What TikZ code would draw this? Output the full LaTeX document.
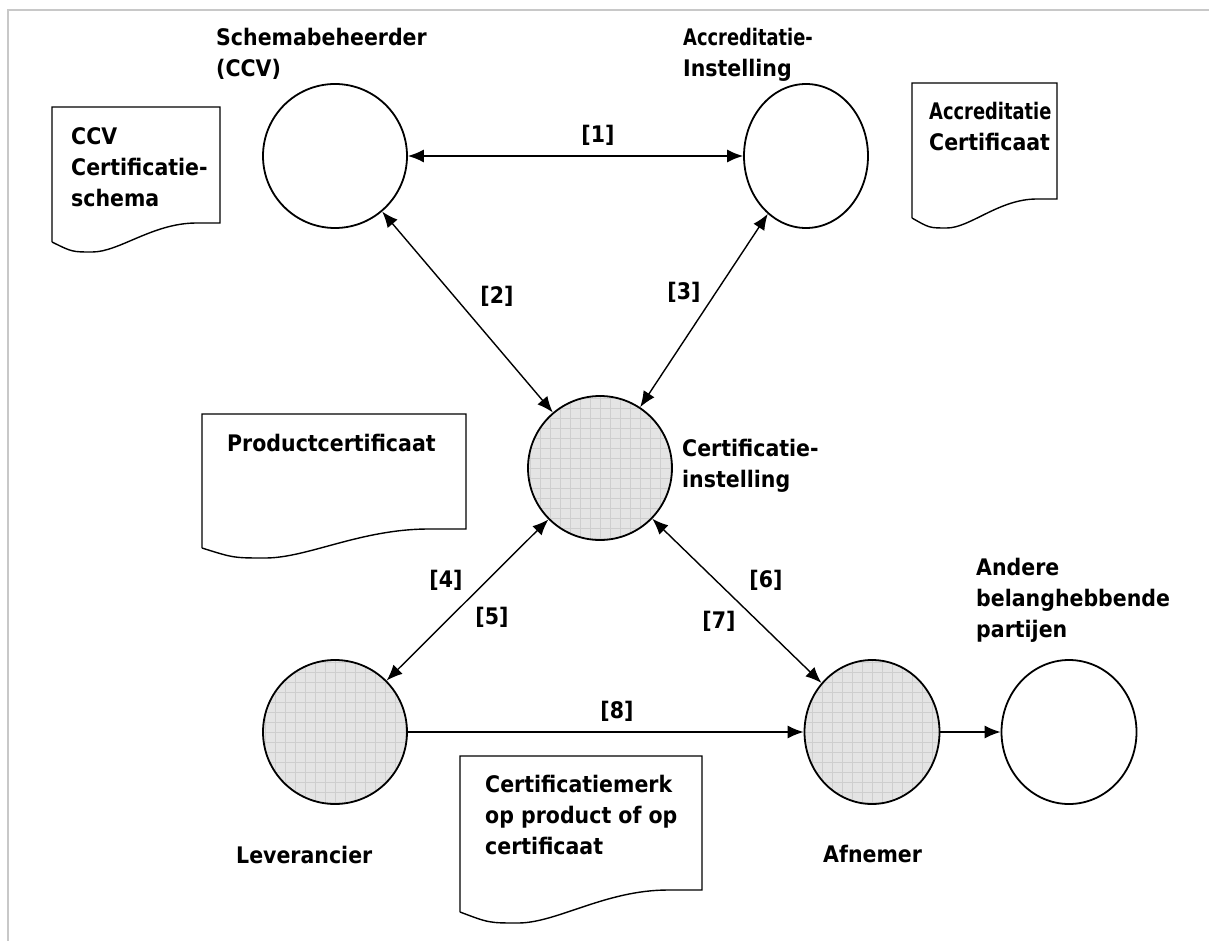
\documentclass[tikz,border=0pt]{standalone}
\usepackage{fontspec}
\usepackage{graphicx}
\setmainfont{DejaVu Sans}[FakeStretch=0.9]
\usetikzlibrary{arrows.meta,shapes.geometric}
\definecolor{cellfill}{RGB}{228,228,228}
\definecolor{gridcol}{RGB}{206,206,206}
\definecolor{framecol}{RGB}{200,200,200}
\newcommand\narrowword[1]{\scalebox{0.87}[1]{#1}}
% document shape: x0, ytop, x1, yRight, yLeft, yMin
\newcommand\docshape[6]{%
  \draw[docline] (#1,#5) -- (#1,#2) -- (#3,#2) -- (#3,#4)
    -- ({#3-0.14*(#3-#1)},#4)
    .. controls ({#3-0.4*(#3-#1)},#4) and ({#1+0.4*(#3-#1)},#6) .. ({#1+0.24*(#3-#1)},#6)
    .. controls ({#1+0.12*(#3-#1)},#6) .. (#1,#5);}
\begin{document}
\begin{tikzpicture}[x=1pt,y=-1pt,
  font=\fontsize{22.8}{31}\selectfont\bfseries,
  party/.style={ellipse, draw, line width=1.8pt, inner sep=0pt, minimum height=144pt, fill=white},
  gridparty/.style={party, fill=cellfill,
    path picture={\draw[gridcol, line width=0.6pt, step=10pt]
      (path picture bounding box.south west) grid (path picture bounding box.north east);}},
  link/.style={line width=1.4pt, {Latex[length=16pt,width=13pt]}-{Latex[length=16pt,width=13pt]}},
  flow/.style={line width=1.4pt, -{Latex[length=16pt,width=13pt]}},
  docline/.style={line width=1.4pt, fill=white},
  lbl/.style={inner sep=0pt, anchor=north west, align=left},
  num/.style={inner sep=0pt}]
\useasboundingbox (0,0) rectangle (1209,941);
\fill[white] (0,0) rectangle (1209,941);
% frame
\draw[framecol, line width=2pt] (8,941) -- (8,10) -- (1209,10);
% documents
\docshape{52}{107}{220}{223}{242}{252}
\docshape{912}{83}{1057}{199}{218}{228}
\docshape{202}{414}{466}{529}{548}{558}
\docshape{460}{756}{702}{890}{912}{923}
% parties
\node[party, minimum width=144pt] (schema) at (335,156) {};
\node[party, minimum width=124pt] (accr) at (806,156) {};
\node[gridparty, minimum width=144pt] (ci) at (600,468) {};
\node[gridparty, minimum width=144pt] (lev) at (335,732) {};
\node[gridparty, minimum width=135pt] (afn) at (872,732) {};
\node[party, minimum width=135pt] (andere) at (1069,732) {};
% connectors
\draw[link] (schema) -- (accr);
\draw[link] (schema) -- (ci);
\draw[link] (accr) -- (ci);
\draw[link] (ci) -- (lev);
\draw[link] (ci) -- (afn);
\draw[flow] (lev) -- (afn);
\draw[flow] (afn) -- (andere);
% labels
\node[lbl] (tschema) at (216,28) {Schemabeheerder\\(CCV)};
\node[lbl] (taccr) at (683,28) {\narrowword{Accreditatie-}\\Instelling};
\node[lbl] (tccv) at (71,127) {CCV\\Certificatie-\\schema};
\node[lbl] (tacert) at (929,102) {\narrowword{Accreditatie}\\Certificaat};
\node[lbl] (tprod) at (227,434) {Productcertificaat};
\node[lbl] (tci) at (682,439) {Certificatie-\\instelling};
\node[lbl] (tandere) at (976,558) {Andere\\belanghebbende\\partijen};
\node[lbl] (tmerk) at (485,775) {Certificatiemerk\\op product of op\\certificaat};
\node[lbl] (tlev) at (236,846) {Leverancier};
\node[lbl] (tafn) at (823,845) {Afnemer};
% numbers
\node[num] (n1) at (598,135) {[1]};
\node[num] (n2) at (497,296) {[2]};
\node[num] (n3) at (684,292) {[3]};
\node[num] (n4) at (446,580) {[4]};
\node[num] (n5) at (492,617) {[5]};
\node[num] (n6) at (766,580) {[6]};
\node[num] (n7) at (719,621) {[7]};
\node[num] (n8) at (617,711) {[8]};
\end{tikzpicture}
\end{document}
